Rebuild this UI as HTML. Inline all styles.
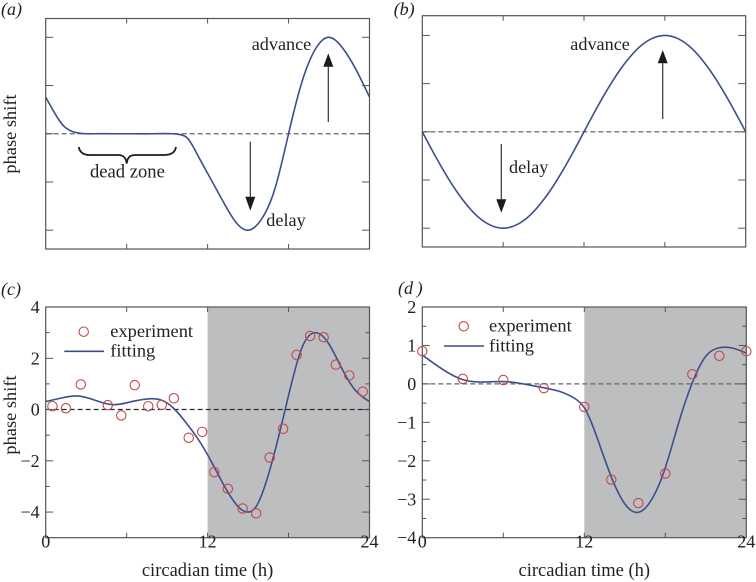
<!DOCTYPE html>
<html lang="en">
<head>
<meta charset="utf-8">
<title>Phase response curves</title>
<style>
html,body{margin:0;padding:0;background:#fff;width:756px;height:582px;overflow:hidden}
svg{display:block}
text{font-family:"Liberation Serif",serif;fill:#222}
</style>
</head>
<body>
<svg id="figure" xmlns="http://www.w3.org/2000/svg" width="756" height="582" viewBox="0 0 756 582"></svg>
<script>
const xTickHours = [0, 6, 12, 18, 24];
const xLabelHours = [0, 12, 24];

const aCurveHours = [0, 0.6, 1.3, 2, 2.7, 3.5, 5, 6.5, 8, 9.4, 10, 10.5, 11.2, 12, 13, 14, 15, 16, 17, 18, 19, 20, 21, 22, 23, 24];
const aCurveValues = [0.76, 0.46, 0.17, 0.045, 0.005, 0, 0, 0, 0, 0, -0.02, -0.09, -0.41, -0.82, -1.33, -1.8, -2, -1.77, -1.13, 0, 1.08, 1.76, 2, 1.78, 1.33, 0.76];
const aYTicks = [-2, -1, 0, 1, 2];

const bCurveHours = [0, 1, 2, 3, 4, 5, 6, 7, 8, 9, 10, 11, 12, 13, 14, 15, 16, 17, 18, 19, 20, 21, 22, 23, 24];
const bCurveValues = [0, -0.52, -1, -1.41, -1.73, -1.93, -2, -1.93, -1.73, -1.41, -1, -0.52, 0, 0.52, 1, 1.41, 1.73, 1.93, 2, 1.93, 1.73, 1.41, 1, 0.52, 0];
const bYTicks = [-2, -1, 0, 1, 2];

const cCurveHours = [0, 1, 2.3, 3.5, 5, 6.3, 7.7, 8.7, 9.5, 10.5, 11.5, 12.5, 13.5, 14.2, 15, 15.6, 16.2, 17, 18, 19, 20, 21, 22, 23, 24];
const cCurveValues = [0.31, 0.43, 0.53, 0.39, 0.19, 0.3, 0.42, 0.34, 0.04, -0.58, -1.32, -2.25, -3.22, -3.75, -4, -3.78, -3.05, -1.6, 0.55, 2.42, 3, 2.55, 1.55, 0.72, 0.31];
const cPointHours = [0.5, 1.5, 2.6, 4.6, 5.6, 6.6, 7.6, 8.6, 9.5, 10.6, 11.6, 12.5, 13.5, 14.6, 15.6, 16.6, 17.6, 18.6, 19.6, 20.6, 21.5, 22.5, 23.5];
const cPointValues = [0.13, 0.05, 0.98, 0.17, -0.23, 0.95, 0.13, 0.18, 0.44, -1.1, -0.87, -2.44, -3.09, -3.86, -4.05, -1.87, -0.75, 2.13, 2.87, 2.82, 1.75, 1.33, 0.7];
const cYTicks = [-4, -3, -2, -1, 0, 1, 2, 3];
const cYMajorTicks = [-4, -2, 0, 2];
const cYLabels = [-4, -2, 0, 2, 4];

const dCurveHours = [0, 1.5, 3, 4.5, 6, 7.5, 9, 10.3, 11.3, 12, 13, 14, 15, 16, 17, 18, 19, 20, 21, 22, 23, 24];
const dCurveValues = [0.75, 0.38, 0.11, 0.05, 0.06, 0, -0.1, -0.21, -0.38, -0.62, -1.45, -2.42, -3.12, -3.34, -3, -2.18, -1, 0.03, 0.72, 0.94, 0.93, 0.8];
const dPointHours = [0, 3, 6, 9, 12, 14, 16, 18, 20, 22, 24];
const dPointValues = [0.85, 0.13, 0.1, -0.11, -0.6, -2.49, -3.1, -2.33, 0.25, 0.73, 0.85];
const dYTicks = [-3.5, -3, -2.5, -2, -1.5, -1, -0.5, 0, 0.5, 1, 1.5];
const dYMajorTicks = [-3, -2, -1, 0, 1];
const dYLabels = [-4, -3, -2, -1, 0, 1, 2];

const NS = 'http://www.w3.org/2000/svg';
const figure = document.getElementById('figure');
const CURVE_COLOR = '#3b4f8c';
const MARK_COLOR = '#c4474a';
const AXIS_COLOR = '#555';

function make(tag, attrs, parent) {
  const node = document.createElementNS(NS, tag);
  for (const key in attrs) node.setAttribute(key, attrs[key]);
  parent.appendChild(node);
  return node;
}

function scales(box) {
  return {
    x: function (h) { return box.left + (h - 0) / 24 * (box.right - box.left); },
    y: function (v) { return box.bottom - (v - box.yMin) / (box.yMax - box.yMin) * (box.bottom - box.top); }
  };
}

/* Natural cubic spline through the curve knots, written as Bezier segments. */
function smoothPath(px, py) {
  const n = px.length;
  const h = [], sec = [];
  for (let i = 0; i < n - 1; i++) {
    h.push(px[i + 1] - px[i]);
    sec.push((py[i + 1] - py[i]) / h[i]);
  }
  const M = new Array(n).fill(0), c = new Array(n).fill(0), e = new Array(n).fill(0);
  for (let i = 1; i < n - 1; i++) {
    const diag = 2 * (h[i - 1] + h[i]) - h[i - 1] * c[i - 1];
    c[i] = h[i] / diag;
    e[i] = (6 * (sec[i] - sec[i - 1]) - h[i - 1] * e[i - 1]) / diag;
  }
  for (let i = n - 2; i > 0; i--) M[i] = e[i] - c[i] * M[i + 1];
  let d = 'M' + px[0].toFixed(2) + ' ' + py[0].toFixed(2);
  for (let i = 0; i < n - 1; i++) {
    const m0 = sec[i] - h[i] / 6 * (2 * M[i] + M[i + 1]);
    const m1 = sec[i] + h[i] / 6 * (M[i] + 2 * M[i + 1]);
    const t = h[i] / 3;
    d += 'C' + (px[i] + t).toFixed(2) + ' ' + (py[i] + m0 * t).toFixed(2) + ' ' +
      (px[i + 1] - t).toFixed(2) + ' ' + (py[i + 1] - m1 * t).toFixed(2) + ' ' +
      px[i + 1].toFixed(2) + ' ' + py[i + 1].toFixed(2);
  }
  return d;
}

function drawPanel(id, box, curveHours, curveValues, pointHours, pointValues, yTicks, yMajor, yLabels, zeroColor) {
  const s = scales(box);
  const g = make('g', {}, figure);
  
  

  if (box.shaded) {
    const band = make('rect', { x: s.x(12), y: box.top, width: box.right - s.x(12), height: box.bottom - box.top, fill: '#bdbec0' }, g);
    
    
  }

  const zero = make('line', { x1: box.left, x2: box.right, y1: s.y(0), y2: s.y(0), stroke: zeroColor, 'stroke-width': 1.2, 'stroke-dasharray': '5 3' }, g);
  
  

  const curve = make('path', { d: smoothPath(curveHours.map(s.x), curveValues.map(s.y)), fill: 'none', stroke: CURVE_COLOR, 'stroke-width': 1.6 }, g);
  
  

  xTickHours.forEach(function (h) {
    if (h === 0 || h === 24) return;
    [[box.top, box.top + 5], [box.bottom, box.bottom - 5]].forEach(function (p) {
      const t = make('line', { x1: s.x(h), x2: s.x(h), y1: p[0], y2: p[1], stroke: AXIS_COLOR, 'stroke-width': 1 }, g);
      
      
    });
  });

  yTicks.forEach(function (v) {
    const len = yMajor.indexOf(v) >= 0 ? 7.5 : 4;
    [[box.left, box.left + len], [box.right, box.right - len]].forEach(function (p) {
      const t = make('line', { x1: p[0], x2: p[1], y1: s.y(v), y2: s.y(v), stroke: AXIS_COLOR, 'stroke-width': 1 }, g);
      
      
    });
  });

  const frame = make('rect', { x: box.left, y: box.top, width: box.right - box.left, height: box.bottom - box.top, fill: 'none', stroke: AXIS_COLOR, 'stroke-width': 1.2 }, g);
  
  

  pointHours.forEach(function (h, i) {
    const c = make('circle', { cx: s.x(h), cy: s.y(pointValues[i]), r: 4.7, fill: 'none', stroke: MARK_COLOR, 'stroke-width': 1.1 }, g);
    
    
  });

  yLabels.forEach(function (v) {
    const t = make('text', { x: box.left - 6, y: s.y(v) + 6, 'text-anchor': 'end', 'font-size': 18 }, g);
    t.textContent = v < 0 ? '\u2212' + Math.abs(v) : String(v);
    
    
  });

  if (box.shaded) {
    xLabelHours.forEach(function (h) {
      const t = make('text', { x: s.x(h), y: 547.7, 'text-anchor': 'middle', 'font-size': 18 }, g);
      t.textContent = String(h);
      
      
    });
    const title = make('text', { x: s.x(12), y: 576, 'text-anchor': 'middle', 'font-size': 18.5 }, g);
    title.textContent = 'circadian time (h)';
    
    
  }
  return g;
}

const gA = drawPanel('a', { left: 45.7, right: 369.5, top: 18.5, bottom: 249, yMin: -2.39, yMax: 2.39, shaded: false },
  aCurveHours, aCurveValues, [], [], aYTicks, aYTicks, [], '#666');
const gB = drawPanel('b', { left: 422.3, right: 745.7, top: 15.7, bottom: 247, yMin: -2.39, yMax: 2.41, shaded: false },
  bCurveHours, bCurveValues, [], [], bYTicks, bYTicks, [], '#555');
const gC = drawPanel('c', { left: 45.7, right: 369.5, top: 307, bottom: 537.7, yMin: -5, yMax: 4, shaded: true },
  cCurveHours, cCurveValues, cPointHours, cPointValues, cYTicks, cYMajorTicks, cYLabels, '#2a2a2a');
const gD = drawPanel('d', { left: 422.3, right: 746.3, top: 307, bottom: 537.7, yMin: -4, yMax: 2, shaded: true },
  dCurveHours, dCurveValues, dPointHours, dPointValues, dYTicks, dYMajorTicks, dYLabels, '#666');

function note(parent, name, content, x, y, size) {
  const t = make('text', { x: x, y: y, 'font-size': size }, parent);
  t.textContent = content;
  
  
  return t;
}

function arrow(parent, name, x, y1, tip, base) {
  const g = make('g', {}, parent);
  
  
  make('line', { x1: x, x2: x, y1: y1, y2: base, stroke: '#333', 'stroke-width': 1.2 }, g);
  make('polygon', { points: (x - 5) + ',' + base + ' ' + (x + 5) + ',' + base + ' ' + x + ',' + tip, fill: '#1c1c1c' }, g);
}

function yTitle(parent, cy) {
  const t = make('text', { x: 0, y: 0, transform: 'translate(16 ' + cy + ') rotate(-90)', 'text-anchor': 'middle', 'font-size': 18.4 }, parent);
  t.textContent = 'phase shift';
  
  
}

function panelLetter(parent, name, content, x, y) {
  const t = make('text', { x: x, y: y, 'font-size': 18, 'font-style': 'italic' }, parent);
  t.textContent = content;
  
  
}

function legend(parent, mx, my, tx, ty1, lx1, lx2, ly, ty2) {
  const g = make('g', {}, parent);
  
  
  const c = make('circle', { cx: mx, cy: my, r: 4.7, fill: 'none', stroke: MARK_COLOR, 'stroke-width': 1.1 }, g);
  
  
  note(g, 'legend-experiment-label', 'experiment', tx, ty1, 18.4);
  const l = make('line', { x1: lx1, x2: lx2, y1: ly, y2: ly, stroke: CURVE_COLOR, 'stroke-width': 1.6 }, g);
  
  
  note(g, 'legend-fitting-label', 'fitting', tx, ty2, 18.4);
}

panelLetter(gA, 'panel-label-a', '(a)', 1, 15);
panelLetter(gB, 'panel-label-b', '(b)', 393.7, 15);
panelLetter(gC, 'panel-label-c', '(c)', 1, 295);
panelLetter(gD, 'panel-label-d', '(d\u2009)', 398, 294);

yTitle(gA, 134);
yTitle(gC, 415);

note(gA, 'advance-label', 'advance', 251.7, 50, 18.2);
note(gA, 'delay-label', 'delay', 266.3, 226, 18.2);
note(gA, 'dead-zone-label', 'dead zone', 90, 177.7, 18.6);
note(gB, 'advance-label', 'advance', 570.3, 50, 18.2);
note(gB, 'delay-label', 'delay', 509, 173, 18.2);

arrow(gA, 'advance-arrow', 328.3, 122, 53.3, 66.7);
arrow(gA, 'delay-arrow', 250.3, 141.7, 210.7, 196.7);
arrow(gB, 'advance-arrow', 662.7, 119, 50, 63.3);
arrow(gB, 'delay-arrow', 501.3, 144, 212.7, 199.3);

const brace = make('path', { d: 'M78.7 147C80 153 84 155 90 155L118 155C123 155 126 157 126.7 163.5C127.5 157 130 155 136 155L164 155C170 155 175 153 176 147', fill: 'none', stroke: '#1c1c1c', 'stroke-width': 1.8 }, gA);



legend(gC, 83.7, 331.7, 110.3, 337, 64.3, 104, 351.3, 356.7);
legend(gD, 463.7, 326.3, 489, 331.7, 444, 484, 346, 351.7);
</script>
</body>
</html>
